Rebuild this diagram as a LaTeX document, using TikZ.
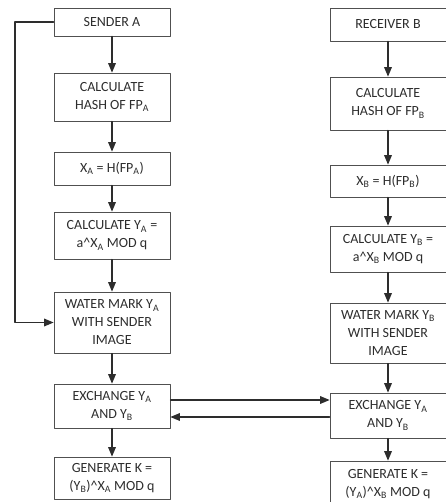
\documentclass[tikz,border=0pt]{standalone}
\usepackage{fontspec}
\setmainfont{Carlito}
\usetikzlibrary{arrows}
\definecolor{boxgray}{RGB}{80,80,80}
\definecolor{inkgray}{RGB}{45,45,45}

\begin{document}
\begin{tikzpicture}[line cap=round,line join=round,>=triangle 45,x=1pt,y=-1pt,
  box/.style={draw=boxgray,line width=0.9pt,minimum width=116pt,inner sep=0pt,
    align=center,text=inkgray,font=\fontsize{14}{18}\selectfont},
  flow/.style={->,line width=1.2pt,draw=inkgray}]
\useasboundingbox (0,0) rectangle (445,502);

% sender side
\node[box,minimum height=28] (sendA) at (112,22) {SENDER A};
\node[box,minimum height=48] (hashA) at (112,97) {CALCULATE\\HASH OF FP\textsubscript{A}};
\node[box,minimum height=33] (xA) at (112,168.5) {X\textsubscript{A} = H(FP\textsubscript{A})};
\node[box,minimum height=47] (yA) at (112,235.5) {CALCULATE Y\textsubscript{A} =\\a\^{}X\textsubscript{A} MOD q};
\node[box,minimum height=61] (markA) at (112,322.5) {WATER MARK Y\textsubscript{A}\\WITH SENDER\\IMAGE};
\node[box,minimum height=44] (exchA) at (112,406) {EXCHANGE Y\textsubscript{A}\\AND Y\textsubscript{B}};
\node[box,minimum height=42] (keyA) at (112,478) {GENERATE K =\\(Y\textsubscript{B})\^{}X\textsubscript{A} MOD q};

% receiver side
\node[box,minimum height=33] (recvB) at (388,24.5) {RECEIVER B};
\node[box,minimum height=53] (hashB) at (388,103.5) {CALCULATE\\HASH OF FP\textsubscript{B}};
\node[box,minimum height=32] (xB) at (388,181) {X\textsubscript{B} = H(FP\textsubscript{B})};
\node[box,minimum height=46] (yB) at (388,249) {CALCULATE Y\textsubscript{B} =\\a\^{}X\textsubscript{B} MOD q};
\node[box,minimum height=60] (markB) at (388,333) {WATER MARK Y\textsubscript{B}\\WITH SENDER\\IMAGE};
\node[box,minimum height=45] (exchB) at (388,415.5) {EXCHANGE Y\textsubscript{A}\\AND Y\textsubscript{B}};
\node[box,minimum height=46] (keyB) at (388,484) {GENERATE K =\\(Y\textsubscript{A})\^{}X\textsubscript{B} MOD q};

\draw[flow] (sendA) -- (hashA);
\draw[flow] (hashA) -- (xA);
\draw[flow] (xA) -- (yA);
\draw[flow] (yA) -- (markA);
\draw[flow] (markA) -- (exchA);
\draw[flow] (exchA) -- (keyA);
\draw[flow] (sendA.west) -- (15,22) |- (markA.west);

\draw[flow] (recvB) -- (hashB);
\draw[flow] (hashB) -- (xB);
\draw[flow] (xB) -- (yB);
\draw[flow] (yB) -- (markB);
\draw[flow] (markB) -- (exchB);
\draw[flow] (exchB) -- (keyB);

\draw[flow] (exchA.east |- 0,400) -- (exchB.west |- 0,400);
\draw[flow] (exchB.west |- 0,417) -- (exchA.east |- 0,417);
\end{tikzpicture}
\end{document}
